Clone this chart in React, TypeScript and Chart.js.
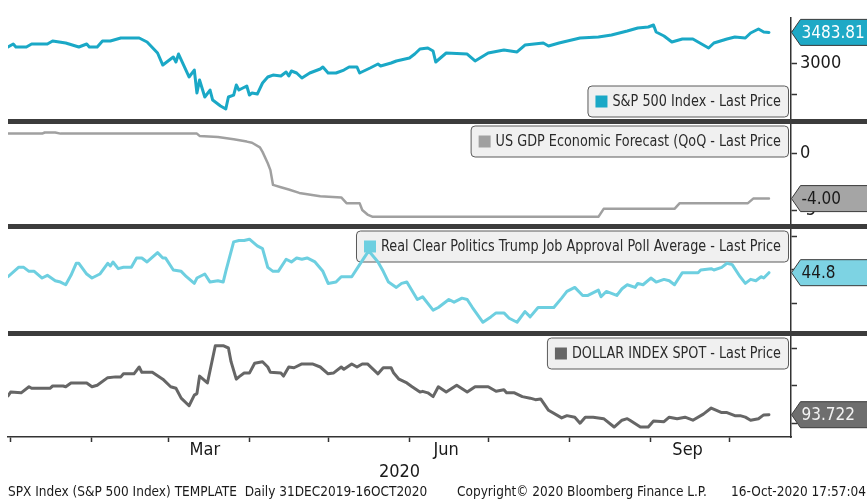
import React, { useEffect, useRef } from "react";
import { Chart, registerables } from "chart.js";

Chart.register(...registerables);

const FONT = "'DejaVu Sans Condensed', 'Liberation Sans Narrow', 'DejaVu Sans', sans-serif";

// x values: days since 31-Dec-2019
const SPX_DAYS = [0,2,3,7,9,15,17,22,27,30,31,34,36,39,43,50,53,57,59,63,64,65,69,71,72,73,75,77,78,81,83,84,86,87,88,91,92,93,95,97,99,101,104,106,107,108,110,112,115,119,120,122,125,128,130,133,134,138,141,142,146,148,153,155,157,160,162,163,167,175,178,183,189,194,197,204,206,210,218,225,230,236,240,244,246,247,250,253,257,261,265,267,269,274,277,281,283,286,288,290];
const SPX_VALUES = [3253,3300,3253,3253,3300,3300,3348,3316,3253,3300,3253,3253,3348,3348,3395,3395,3332,3158,2968,3095,3016,3142,2779,2889,2526,2731,2463,2573,2415,2321,2273,2463,2494,2652,2573,2637,2494,2526,2510,2684,2779,2810,2795,2858,2795,2874,2842,2763,2842,2905,2937,2842,2842,2889,2937,2937,2842,2921,2984,2953,3000,3032,3079,3142,3221,3237,3190,3016,3158,3142,3032,3158,3205,3174,3284,3316,3269,3316,3395,3411,3442,3505,3553,3569,3600,3490,3427,3332,3379,3379,3284,3237,3316,3379,3411,3395,3474,3537,3490,3483.81];

const GDP_DAYS = [0,13,14,18,20,72,73,80,86,91,93,96,97,99,100,101,104,107,111,119,127,129,134,135,137,139,225,227,254,256,282,284,290];
const GDP_VALUES = [1.7,1.7,1.8,1.8,1.7,1.7,1.5,1.4,1.2,1.0,0.9,0.5,0.1,-0.9,-1.5,-2.8,-3.0,-3.2,-3.5,-3.8,-3.9,-4.4,-4.4,-5.0,-5.4,-5.6,-5.6,-4.9,-4.9,-4.4,-4.4,-4.0,-4.0];

const TRUMP_DAYS = [0,4,6,8,10,13,15,18,20,22,24,26,27,30,32,35,38,39,40,42,44,47,49,51,53,57,59,60,63,66,68,71,72,75,77,80,82,83,86,88,90,92,95,97,99,101,103,106,108,110,112,114,117,120,122,125,127,131,134,137,138,141,143,145,148,150,152,156,158,162,164,168,170,173,175,177,181,184,186,189,191,194,197,199,202,205,208,211,213,216,219,221,225,226,228,232,234,236,239,240,242,245,247,250,252,254,257,260,263,264,268,269,272,274,276,279,281,283,285,287,288,290];
const TRUMP_VALUES = [44.5,45.2,45.2,44.9,44.9,44.4,44.6,44.2,44.1,43.9,44.6,45.5,45.5,44.7,44.4,44.7,45.5,45.3,45.6,45.1,45.2,45.2,45.9,45.9,45.6,46.3,45.9,45.9,45.0,44.9,44.5,44.0,44.4,44.7,44.1,44.2,44.1,44.9,47.1,47.2,47.2,47.3,46.8,46.6,45.2,44.9,44.9,45.8,45.6,45.9,45.8,45.9,45.6,44.9,44.0,44.1,44.5,44.5,45.4,46.3,46.3,45.6,44.9,44.1,43.7,44.0,44.1,42.8,43.0,42.0,42.2,42.8,42.6,42.9,42.8,42.2,41.1,41.5,41.8,41.8,41.4,41.1,41.9,41.5,42.2,42.2,42.2,42.9,43.4,43.7,43.1,43.1,43.5,43.0,43.4,43.1,43.6,43.9,43.7,44.0,43.9,44.4,44.1,44.3,44.2,43.9,44.8,44.8,44.8,45.0,45.1,45.0,45.2,45.5,45.4,44.5,44.0,44.3,44.2,44.5,44.4,44.8];

const DXY_DAYS = [0,1,5,8,9,16,17,21,22,24,30,32,34,38,41,43,44,48,50,51,55,59,62,64,66,69,71,72,73,76,79,82,84,85,87,88,90,92,94,97,99,100,104,105,107,109,112,116,119,122,124,127,128,131,133,135,137,141,143,146,147,149,152,154,157,158,160,162,164,167,171,175,178,183,186,189,190,193,196,199,201,203,206,211,213,216,218,220,223,227,231,234,236,237,241,244,246,250,252,255,258,261,265,268,272,274,277,279,281,283,286,288,290];
const DXY_VALUES = [96.2,96.7,96.6,97.4,97.2,97.2,97.5,97.5,97.4,97.9,97.9,97.4,97.6,98.6,98.7,98.7,99.1,99.1,100.0,99.3,99.3,98.4,97.4,97.2,95.9,94.9,96.3,96.5,98.8,97.9,102.8,102.8,102.5,100.7,98.4,98.7,99.2,99.2,100.5,100.7,100.0,99.3,99.2,98.8,100.0,99.9,100.4,100.4,100.0,99.1,99.2,100.0,99.7,100.4,100.0,100.4,100.4,99.1,99.9,99.9,99.2,98.4,97.9,97.4,96.7,96.8,96.6,96.1,97.4,96.7,97.6,96.7,97.4,97.4,96.8,97.0,96.6,96.6,96.1,95.9,95.7,95.8,94.3,93.3,93.6,93.4,92.6,93.4,93.4,93.2,92.1,93.0,93.2,93.0,92.1,92.1,92.9,92.8,93.4,93.2,93.4,93.0,93.8,94.6,94.0,94.0,93.6,93.6,93.4,93.0,93.2,93.7,93.722];

// axis ticks
const MONTH_START_DAYS = [1, 32, 61, 92, 122, 153, 183, 214, 245, 275];
const MONTH_LABEL_DAYS = [75, 167, 259];
const MONTH_LABELS = ["Mar", "Jun", "Sep"];
const YEAR_LABEL = "2020";
const X_MAX = 298.4;

const SPX_TICKS = [2500, 3000, 3500];
const SPX_TICK_LABELS = [3000];
const GDP_TICKS = [-5, -2.5, 0, 2.5];
const GDP_TICK_LABELS = [-5, 0];
const TRUMP_TICKS = [42.5, 45, 47.5];
const TRUMP_TICK_LABELS = [45];
const DXY_TICKS = [92.5, 95, 97.5, 100, 102.5];
const DXY_TICK_LABELS = [95, 100];

const FOOTER_LEFT = "SPX Index (S&P 500 Index) TEMPLATE  Daily 31DEC2019-16OCT2020";
const FOOTER_MID = "Copyright\u00A9 2020 Bloomberg Finance L.P.";
const FOOTER_RIGHT = "16-Oct-2020 17:57:04";

type Panel = {
  id: string;
  label: string;
  days: number[];
  values: number[];
  ticks: number[];
  tickLabels: number[];
  min: number;
  max: number;
  weight: number;
  color: string;
  lineWidth: number;
  tagBg: string;
  tagFg: string;
  decimals: number;
  legendAtBottom: boolean;
};

const PANELS: Panel[] = [
  { id: "y1", label: "S&P 500 Index - Last Price", days: SPX_DAYS, values: SPX_VALUES, ticks: SPX_TICKS, tickLabels: SPX_TICK_LABELS,
    min: 2076, max: 3711, weight: 103.5, color: "#1aa8c6", lineWidth: 3, tagBg: "#1ea9c6", tagFg: "#ffffff", decimals: 2, legendAtBottom: true },
  { id: "y2", label: "US GDP Economic Forecast (QoQ - Last Price", days: GDP_DAYS, values: GDP_VALUES, ticks: GDP_TICKS, tickLabels: GDP_TICK_LABELS,
    min: -6.447, max: 2.763, weight: 105, color: "#a0a0a0", lineWidth: 2.5, tagBg: "#a5a5a5", tagFg: "#1a1a1a", decimals: 2, legendAtBottom: false },
  { id: "y3", label: "Real Clear Politics Trump Job Approval Poll Average - Last Price", days: TRUMP_DAYS, values: TRUMP_VALUES, ticks: TRUMP_TICKS, tickLabels: TRUMP_TICK_LABELS,
    min: 40.261, max: 48.246, weight: 107, color: "#6dcfe0", lineWidth: 3, tagBg: "#7dd3e3", tagFg: "#1a1a1a", decimals: 1, legendAtBottom: false },
  { id: "y4", label: "DOLLAR INDEX SPOT - Last Price", days: DXY_DAYS, values: DXY_VALUES, ticks: DXY_TICKS, tickLabels: DXY_TICK_LABELS,
    min: 90.789, max: 104.408, weight: 103.5, color: "#666666", lineWidth: 3, tagBg: "#6e6e6e", tagFg: "#f2f2f2", decimals: 3, legendAtBottom: false },
];

const LEGEND_FONT_SIZE = 15;
const LEGEND_TEXT_SCALE = 0.95;

function drawText(ctx: CanvasRenderingContext2D, s: string, x: number, y: number, size: number, color: string, align: CanvasTextAlign = "left", sx = 1) {
  ctx.save();
  ctx.font = `${size}px ${FONT}`;
  ctx.fillStyle = color;
  ctx.textAlign = align;
  ctx.textBaseline = "middle";
  ctx.translate(x, y);
  ctx.scale(sx, 1);
  ctx.fillText(s, 0, 0);
  ctx.restore();
}

function roundRectPath(ctx: CanvasRenderingContext2D, x: number, y: number, w: number, h: number, r: number) {
  ctx.beginPath();
  ctx.moveTo(x + r, y);
  ctx.lineTo(x + w - r, y);
  ctx.quadraticCurveTo(x + w, y, x + w, y + r);
  ctx.lineTo(x + w, y + h - r);
  ctx.quadraticCurveTo(x + w, y + h, x + w - r, y + h);
  ctx.lineTo(x + r, y + h);
  ctx.quadraticCurveTo(x, y + h, x, y + h - r);
  ctx.lineTo(x, y + r);
  ctx.quadraticCurveTo(x, y, x + r, y);
  ctx.closePath();
}

function drawLegend(ctx: CanvasRenderingContext2D, text: string, color: string, right: number, top: number) {
  ctx.save();
  ctx.font = `${LEGEND_FONT_SIZE}px ${FONT}`;
  const tw = ctx.measureText(text).width * LEGEND_TEXT_SCALE;
  const h = 31;
  const w = 8 + 12 + 5 + tw + 7;
  const left = right - w;
  roundRectPath(ctx, left + 0.5, top + 0.5, w, h, 4);
  ctx.fillStyle = "#f0f0f0";
  ctx.fill();
  ctx.strokeStyle = "#5a5a5a";
  ctx.lineWidth = 1;
  ctx.stroke();
  ctx.fillStyle = color;
  ctx.fillRect(left + 8, top + h / 2 - 5.5, 12, 12);
  ctx.restore();
  drawText(ctx, text, left + 25, top + h / 2 + 1, LEGEND_FONT_SIZE, "#2a2a2a", "left", LEGEND_TEXT_SCALE);
}

function drawTag(ctx: CanvasRenderingContext2D, x: number, y: number, label: string, bg: string, fg: string, right: number) {
  const h = 26;
  const notch = 9;
  ctx.save();
  ctx.beginPath();
  ctx.moveTo(x, y);
  ctx.lineTo(x + notch, y - h / 2);
  ctx.lineTo(right + 2, y - h / 2);
  ctx.lineTo(right + 2, y + h / 2);
  ctx.lineTo(x + notch, y + h / 2);
  ctx.closePath();
  ctx.fillStyle = bg;
  ctx.fill();
  ctx.strokeStyle = "#3a3a3a";
  ctx.lineWidth = 1;
  ctx.stroke();
  ctx.restore();
  drawText(ctx, label, x + 10, y + 1, 17, fg);
}

const bloombergPlugin = {
  id: "bloomberg",
  beforeDatasetsDraw(chart: any) {
    const ctx = chart.ctx;
    PANELS.forEach((p) => {
      const s = chart.scales[p.id];
      const top = p.legendAtBottom ? s.bottom - 36 : s.top + 4;
      drawLegend(ctx, p.label, p.color, chart.chartArea.right - 3, top);
    });
  },
  afterDraw(chart: any) {
    const ctx = chart.ctx;
    const area = chart.chartArea;
    ctx.save();
    PANELS.slice(1).forEach((p) => {
      const s = chart.scales[p.id];
      ctx.fillStyle = "#3c3c3c";
      ctx.fillRect(area.left, s.top - 2.5, chart.width - area.left, 5);
    });
    ctx.restore();
    PANELS.forEach((p) => {
      const s = chart.scales[p.id];
      const last = p.values[p.values.length - 1];
      drawTag(ctx, s.left + 0.5, s.getPixelForValue(last), last.toFixed(p.decimals), p.tagBg, p.tagFg, chart.width);
    });
    drawText(ctx, YEAR_LABEL, (area.left + area.right) / 2, 472, 18, "#1a1a1a", "center");
    drawText(ctx, FOOTER_LEFT, 8, 492, 13.5, "#1a1a1a", "left");
    drawText(ctx, FOOTER_MID, 457, 492, 13.5, "#1a1a1a", "left");
    drawText(ctx, FOOTER_RIGHT, 866, 492, 13.5, "#1a1a1a", "right");
  },
};

function buildConfig(): any {
  const scales: any = {
    x: {
      type: "linear",
      position: "bottom",
      min: 0,
      max: X_MAX,
      afterFit: (s: any) => {
        s.height = 63;
      },
      afterBuildTicks: (s: any) => {
        const vals = [...MONTH_START_DAYS, ...MONTH_LABEL_DAYS].sort((a, b) => a - b);
        s.ticks = vals.map((v) => ({ value: v }));
      },
      ticks: {
        autoSkip: false,
        maxRotation: 0,
        minRotation: 0,
        padding: -1,
        color: "#1a1a1a",
        font: { family: FONT, size: 18, lineHeight: 1 },
        callback: (v: number) => {
          const i = MONTH_LABEL_DAYS.indexOf(v);
          return i >= 0 ? MONTH_LABELS[i] : "";
        },
      },
      grid: {
        drawOnChartArea: false,
        drawTicks: true,
        tickLength: 5,
        tickWidth: 1.5,
        tickColor: (c: any) => (c.tick && MONTH_LABEL_DAYS.includes(c.tick.value) ? "rgba(0,0,0,0)" : "#333333"),
      },
      border: { display: true, color: "#333333", width: 1.5 },
    },
  };
  PANELS.forEach((p) => {
    scales[p.id] = {
      type: "linear",
      position: "right",
      stack: "panels",
      stackWeight: p.weight,
      min: p.min,
      max: p.max,
      afterFit: (s: any) => {
        s.width = 76;
      },
      afterBuildTicks: (s: any) => {
        s.ticks = p.ticks.map((v) => ({ value: v }));
      },
      ticks: {
        padding: 3,
        color: "#1a1a1a",
        font: { family: FONT, size: 18 },
        callback: (v: number) => (p.tickLabels.includes(v) ? String(v) : ""),
      },
      grid: { drawOnChartArea: false, drawTicks: true, tickLength: 6, tickWidth: 1.5, tickColor: "#333333" },
      border: { display: true, color: "#333333", width: 1.5 },
    };
  });

  return {
    type: "line",
    data: {
      datasets: PANELS.map((p) => ({
        label: p.label,
        data: p.days.map((d, i) => ({ x: d, y: p.values[i] })),
        xAxisID: "x",
        yAxisID: p.id,
        borderColor: p.color,
        borderWidth: p.lineWidth,
        pointRadius: 0,
        tension: 0,
        fill: false,
        borderJoinStyle: "round",
        borderCapStyle: "round",
      })),
    },
    options: {
      animation: false,
      responsive: false,
      maintainAspectRatio: false,
      events: [],
      layout: { padding: { left: 8, top: 18, right: 0, bottom: 0 } },
      plugins: { legend: { display: false }, tooltip: { enabled: false }, title: { display: false } },
      scales,
    },
    plugins: [bloombergPlugin],
  };
}

export default function App() {
  const ref = useRef<HTMLCanvasElement>(null);
  useEffect(() => {
    if (!ref.current) return;
    const chart = new Chart(ref.current, buildConfig());
    return () => chart.destroy();
  }, []);
  return (
    <div style={{ position: "absolute", left: 0, top: 0, width: 867, height: 500, background: "#ffffff", overflow: "hidden" }}>
      <canvas ref={ref} width={867} height={500} style={{ width: 867, height: 500, display: "block" }} />
    </div>
  );
}
